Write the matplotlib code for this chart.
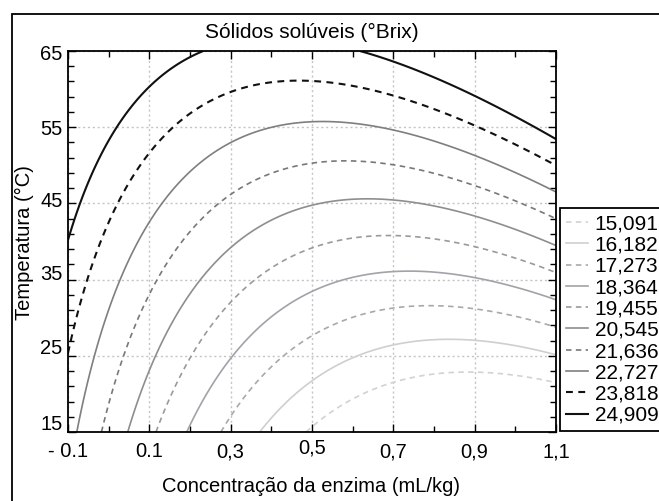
import matplotlib
matplotlib.use('Agg')
import matplotlib.pyplot as plt
import matplotlib.ticker as mticker
from matplotlib.lines import Line2D
from matplotlib.patches import Rectangle
from matplotlib.transforms import ScaledTranslation
import numpy as np

plt.rcParams['font.family'] = ['Liberation Sans', 'DejaVu Sans']

# niveis das curvas (°Brix)
levels = [15.091, 16.182, 17.273, 18.364, 19.455, 20.545, 21.636, 22.727, 23.818, 24.909]
line_colors = ['#d2d2d2', '#cfcfcf', '#a9a9a9', '#a2a2a8', '#9a9a9a',
               '#8e8e8e', '#787878', '#7f7f7f', '#111111', '#111111']

# pontos lidos sobre cada curva: concentracao (mL/kg) e temperatura (°C)
contour_conc = [
    [0.487, 0.70, 0.865, 1.1],
    [0.372, 0.495, 0.618, 0.70, 0.848, 1.1],
    [0.282, 0.356, 0.495, 0.70, 0.799, 0.897, 1.1],
    [0.196, 0.302, 0.495, 0.70, 0.766, 0.897, 1.1],
    [0.118, 0.20, 0.302, 0.356, 0.495, 0.70, 0.897, 1.1],
    [0.048, 0.101, 0.224, 0.315, 0.495, 0.643, 0.70, 0.897, 1.1],
    [-0.015, 0.035, 0.122, 0.177, 0.302, 0.495, 0.70, 0.897, 1.1],
    [-0.079, -0.022, 0.031, 0.072, 0.126, 0.298, 0.495, 0.70, 0.897, 1.1],
    [-0.096, -0.051, -0.014, 0.027, 0.101, 0.150, 0.302, 0.495, 0.70, 0.897, 1.1],
    [-0.1, -0.069, 0.015, 0.101, 0.224, 0.635, 0.70, 0.897, 1.1],
]
contour_temp = [
    [15.0, 21.4, 22.8, 21.6],
    [15.0, 21.5, 24.9, 26.3, 27.1, 25.0],
    [15.0, 21.9, 27.5, 31.3, 31.7, 31.3, 28.8],
    [15.0, 25.1, 33.4, 36.0, 36.2, 35.4, 32.4],
    [15.0, 24.9, 32.6, 35.0, 39.3, 40.9, 39.0, 36.0],
    [15.0, 24.9, 35.0, 40.0, 44.6, 45.6, 45.4, 43.5, 39.8],
    [15.0, 24.9, 35.0, 40.0, 45.9, 50.3, 49.8, 46.3, 42.8],
    [15.0, 27.1, 35.0, 39.5, 44.9, 53.1, 55.5, 54.6, 51.3, 46.5],
    [27.1, 35.0, 40.2, 44.9, 51.3, 55.0, 59.6, 61.2, 59.2, 55.5, 50.3],
    [40.2, 44.9, 55.0, 60.1, 65.0, 65.0, 63.5, 59.2, 53.4],
]

x_ticks = [-0.1, 0.1, 0.3, 0.5, 0.7, 0.9, 1.1]
x_tick_labels = ['- 0.1', '0.1', '0,3', '0,5', '0,7', '0,9', '1,1']
y_ticks = [15, 25, 35, 45, 55, 65]
y_tick_labels = ['15', '25', '35', '45', '55', '65']

# superficie de resposta quadratica ajustada aos pontos lidos
rows, rhs = [], []
for lev, xs, ts in zip(levels, contour_conc, contour_temp):
    for x, t in zip(xs, ts):
        rows.append([1, x, t, x * x, t * t, x * t])
        rhs.append(lev)
coef = np.linalg.lstsq(np.array(rows), np.array(rhs), rcond=None)[0]

xg = np.linspace(-0.1, 1.1, 400)
tg = np.linspace(15, 65, 400)
X, T = np.meshgrid(xg, tg)
Z = (coef[0] + coef[1] * X + coef[2] * T + coef[3] * X ** 2
     + coef[4] * T ** 2 + coef[5] * X * T)

W, H = 659, 501
fig = plt.figure(figsize=(W / 100, H / 100), dpi=100)
ax = fig.add_axes([68 / W, 1 - 432 / H, (556 - 68) / W, (432 - 51) / H])

dash = (0, (3.3, 2.6))
styles = [dash if i % 2 == 0 else 'solid' for i in range(len(levels))]
widths = [1.5 if i >= 8 else 1.2 for i in range(len(levels))]

ax.contour(X, T, Z, levels=levels, colors=line_colors,
           linestyles=styles, linewidths=widths)

ax.set_xlim(-0.1, 1.1)
ax.set_ylim(15, 65)
ax.set_xticks(x_ticks)
ax.set_xticklabels(x_tick_labels)
ax.set_yticks(y_ticks)
ax.set_yticklabels(y_tick_labels)
ax.xaxis.set_minor_locator(mticker.MultipleLocator(0.1))
ax.yaxis.set_minor_locator(mticker.MultipleLocator(2, offset=1))
ax.tick_params(which='both', direction='in', top=True, right=True,
               width=1, colors='black', labelsize=14.5)
ax.tick_params(axis='x', which='both', pad=7.5)
ax.tick_params(axis='y', which='both', pad=3.8)
ax.tick_params(which='major', length=6)
ax.tick_params(which='minor', length=4)
ax.grid(True, which='major', color='#c4c4c4', linestyle=(0, (1.5, 2)), linewidth=1)
for s in ax.spines.values():
    s.set_linewidth(1.3)

# deslocamento dos rotulos como no original
y_shift = [7.2, 6.5, 5.0, 2.9, 0.0, -1.4]
for lab, dy in zip(ax.get_yticklabels(), y_shift):
    lab.set_transform(lab.get_transform() + ScaledTranslation(0, dy / 72, fig.dpi_scale_trans))
x_shift = [0, 0, 0, 2.5, 0, 0, 0]
for lab, dy in zip(ax.get_xticklabels(), x_shift):
    lab.set_transform(lab.get_transform() + ScaledTranslation(0, dy / 72, fig.dpi_scale_trans))

fig.text(312 / W, 1 - 32 / H, 'Sólidos solúveis (°Brix)', fontsize=15,
         ha='center', va='center')
fig.text(311.5 / W, 1 - 486 / H, 'Concentração da enzima (mL/kg)', fontsize=14.5,
         ha='center', va='center')
fig.text(24 / W, 1 - 243 / H, 'Temperatura (°C)', fontsize=14.5, rotation=90,
         ha='center', va='center')

handles = [Line2D([], [], color=c, lw=w, linestyle=s)
           for c, w, s in zip(line_colors, widths, styles)]
labels = [f'{v:.3f}'.replace('.', ',') for v in levels]
leg = fig.legend(handles, labels, loc='upper left',
                 bbox_to_anchor=(560 / W, 1 - 208 / H), bbox_transform=fig.transFigure,
                 borderaxespad=0, fancybox=False, edgecolor='black', framealpha=1,
                 fontsize=15, labelspacing=0.11, handlelength=1.06,
                 handletextpad=0.3, borderpad=0.3)
leg.get_frame().set_linewidth(1.3)

fig.patches.append(Rectangle((12 / W, -0.05), 1.0, 1 - 14 / H + 0.05,
                             transform=fig.transFigure, fill=False,
                             edgecolor='black', linewidth=1.3))

fig.savefig('out.png', dpi=100)
